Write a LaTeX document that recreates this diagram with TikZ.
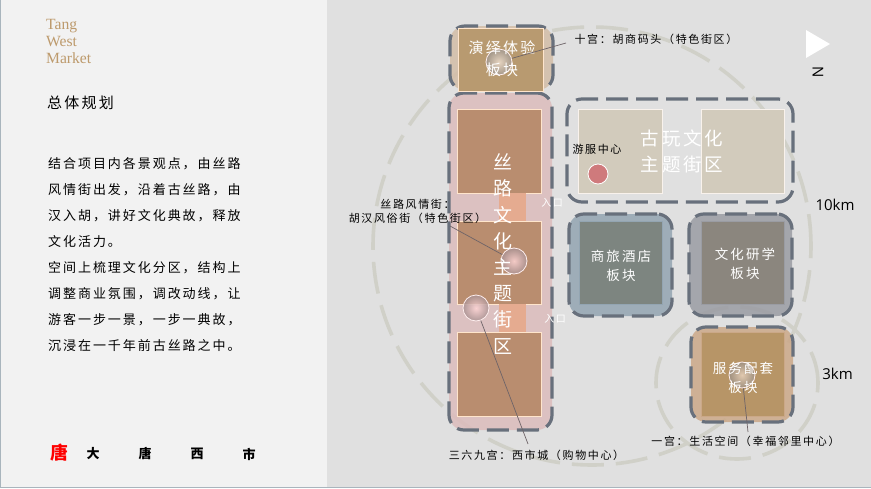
\documentclass[tikz,border=0pt]{standalone}
\usepackage{fontspec}
\setmainfont{Liberation Serif}
\setsansfont{Open Sans}
\newfontfamily\cjk[LetterSpace=15]{Noto Sans CJK SC}
\newfontfamily\cjktight{Noto Sans CJK SC}
\usepackage{tikz}
\definecolor{panelgrey}{HTML}{F2F2F2}
\definecolor{backgrey}{HTML}{E0E0E0}
\definecolor{edgeblue}{HTML}{A9B5BD}
\definecolor{ringgrey}{HTML}{D0D0C8}
\definecolor{dashgrey}{HTML}{68707C}
\definecolor{leadgrey}{HTML}{6E6468}
\definecolor{titlegold}{HTML}{BD9A6C}
\definecolor{yanyiout}{HTML}{D3BDA7}
\definecolor{yanyiin}{HTML}{B89A70}
\definecolor{siluout}{HTML}{DCBCBC}
\definecolor{siluin}{HTML}{B98D6F}
\definecolor{gatefill}{HTML}{E5AB90}
\definecolor{guwanin}{HTML}{D2CBBC}
\definecolor{shanglvout}{HTML}{93A5B2}
\definecolor{shanglvin}{HTML}{7D8580}
\definecolor{yanxueout}{HTML}{9A9CA3}
\definecolor{yanxuein}{HTML}{8B867E}
\definecolor{fuwuout}{HTML}{CBA888}
\definecolor{fuwuin}{HTML}{B79567}
\definecolor{centrered}{HTML}{CF7A7C}

\begin{document}
\begin{tikzpicture}[x=1pt,y=-1pt]
\tikzset{zone/.style = {shape=rectangle,draw=dashgrey,line width=3.2pt,rounded corners=15pt,fill opacity=.85,dash pattern=on 22pt off 8pt,outer sep=0pt}}
\tikzset{plotbox/.style = {shape=rectangle,draw=white!80!orange,line width=.8pt,outer sep=0pt}}
\tikzset{gatebox/.style = {shape=rectangle,fill=gatefill,inner sep=0pt,outer sep=0pt,minimum width=27pt,minimum height=28pt}}
\tikzset{ball/.style = {shape=circle,draw=white!75!pink,line width=.8pt,minimum size=26pt,inner sep=0pt,inner color=#1,outer color=#1!70!black!80!gray,fill opacity=.85}}
\tikzset{ringline/.style = {draw=ringgrey,line width=3.6pt,dash pattern=on 32pt off 12pt}}
\tikzset{lead/.style = {draw=leadgrey,line width=.7pt}}
\tikzset{tag/.style = {text=black,inner sep=0pt,align=center,font=\cjk\fontsize{11}{14}\selectfont}}
\tikzset{blockname/.style = {text=white,inner sep=0pt,align=center,font=\cjk\fontsize{13.5}{18.5}\selectfont}}
\tikzset{gatename/.style = {text=white,inner sep=0pt,font=\cjk\fontsize{10}{12}\selectfont}}
\tikzset{dist/.style = {text=black,inner sep=0pt,font=\sffamily\fontsize{15}{17}\selectfont}}
% ground
\fill[backgrey] (0,0) rectangle (871,488);
\fill[panelgrey] (0,0) rectangle (327,488);
\fill[edgeblue] (0,0) rectangle (1,488);
\fill[edgeblue] (0,487) rectangle (871,488);
% left column
\node[text=titlegold,inner sep=0pt,align=left,anchor=north west,font=\fontsize{15.6}{17}\selectfont] (title) at (46,19.5) {Tang\\West\\Market};
\node[inner sep=0pt,anchor=west,font=\cjk\fontsize{15}{18}\selectfont] (head) at (47,103) {总体规划};
\node[inner sep=0pt,anchor=north west,align=left,font=\cjk\fontsize{13}{26}\selectfont] (intro) at (48,157) {结合项目内各景观点，由丝路\\风情街出发，沿着古丝路，由\\汉入胡，讲好文化典故，释放\\文化活力。\\空间上梳理文化分区，结构上\\调整商业氛围，调改动线，让\\游客一步一景，一步一典故，\\沉浸在一千年前古丝路之中。};
\node[text=red,inner sep=0pt,font=\cjktight\bfseries\fontsize{18}{20}\selectfont] (seal) at (59,453) {唐};
\node[inner sep=0pt,font=\cjktight\bfseries\fontsize{13}{15}\selectfont] (da) at (93,454) {大};
\node[inner sep=0pt,font=\cjktight\bfseries\fontsize{13}{15}\selectfont] (tang) at (145,454) {唐};
\node[inner sep=0pt,font=\cjktight\bfseries\fontsize{13}{15}\selectfont] (xi) at (197,454) {西};
\node[inner sep=0pt,font=\cjktight\bfseries\fontsize{13}{15}\selectfont] (shi) at (249,454) {市};
% rings
\draw[ringline] (592,246) circle (219pt);
\draw[ringline] (737,383) ellipse (81pt and 76pt);
% zones
\node[zone,fill=yanyiout,minimum width=103pt,minimum height=64pt] (yanyi) at (501.5,58) {};
\node[zone,fill=siluout,minimum width=103pt,minimum height=337pt] (silu) at (500.5,261.5) {};
\node[zone,minimum width=226pt,minimum height=103pt] (guwan) at (680,150.5) {};
\node[zone,fill=shanglvout,minimum width=103pt,minimum height=102pt] (shanglv) at (620.5,265) {};
\node[zone,fill=yanxueout,minimum width=103pt,minimum height=102pt] (yanxue) at (740.5,265) {};
\node[zone,fill=fuwuout,minimum width=102pt,minimum height=95pt] (fuwu) at (742,374.5) {};
% plots
\node[plotbox,fill=yanyiin,minimum width=85pt,minimum height=63pt] (yanyi1) at (500.5,59.5) {};
\node[plotbox,fill=siluin,minimum width=84pt,minimum height=84pt] (silu1) at (499,151) {};
\node[plotbox,fill=siluin,minimum width=84pt,minimum height=83pt] (silu2) at (499,262.5) {};
\node[plotbox,fill=siluin,minimum width=84pt,minimum height=84pt] (silu3) at (499,374) {};
\node[gatebox] (gate1) at (512.5,207) {};
\node[gatebox] (gate2) at (512.5,318) {};
\node[plotbox,draw=white!90!brown,fill=guwanin,minimum width=84pt,minimum height=84pt] (guwan1) at (620,151) {};
\node[plotbox,draw=white!90!brown,fill=guwanin,minimum width=83pt,minimum height=84pt] (guwan2) at (742.5,151) {};
\node[plotbox,fill=shanglvin,draw=shanglvout,minimum width=83pt,minimum height=83pt] (shanglv1) at (620.5,262.5) {};
\node[plotbox,fill=yanxuein,draw=yanxueout,minimum width=83pt,minimum height=83pt] (yanxue1) at (742.5,262.5) {};
\node[plotbox,fill=fuwuin,draw=fuwuout,minimum width=83pt,minimum height=84pt] (fuwu1) at (742.5,374) {};
% spots
\node[ball=brown!25!white] (spot1) at (499,62) {};
\node[ball=pink!65!white] (spot2) at (514,261) {};
\node[ball=pink!65!white] (spot3) at (476,308) {};
\node[ball=brown!35!white] (spot4) at (742,375) {};
\node[shape=circle,fill=centrered,draw=white,line width=.8pt,minimum size=20pt,inner sep=0pt] (centre) at (598,174) {};
% zone names
\node[blockname,font=\cjk\fontsize{15}{22}\selectfont] (yanyiname) at (502,59) {演绎体验\\板块};
\node[blockname,font=\cjktight\fontsize{19}{26.2}\selectfont] (siluname) at (503,254) {丝\\路\\文\\化\\主\\题\\街\\区};
\node[blockname,font=\cjk\fontsize{18.5}{26}\selectfont] (guwanname) at (682,151) {古玩文化\\主题街区};
\node[blockname] (shanglvname) at (621,266) {商旅酒店\\板块};
\node[blockname] (yanxuename) at (745,264) {文化研学\\板块};
\node[blockname] (fuwuname) at (743,378) {服务配套\\板块};
\node[gatename] (gatename1) at (552,203) {入口};
\node[gatename] (gatename2) at (555,319) {入口};
% tags
\node[tag] (tagten) at (656,39) {十宫：胡商码头（特色街区）};
\node[tag] (tagsilk) at (417.5,211) {丝路风情街：\\胡汉风俗街（特色街区）};
\node[tag] (tagwest) at (536.5,455) {三六九宫：西市城（购物中心）};
\node[tag] (tagone) at (745.5,441) {一宫：生活空间（幸福邻里中心）};
\node[tag,font=\cjk\fontsize{11}{13}\selectfont] (tagcentre) at (597,149) {游服中心};
\coordinate (leadten) at (566,43);
\coordinate (leadsilk) at (450,226);
\coordinate (leadwest) at (528,444);
\coordinate (leadone) at (748,432);
% leaders
\draw[lead] (spot1) -- (leadten);
\draw[lead] (spot2) -- (leadsilk);
\draw[lead] (spot3) -- (leadwest);
\draw[lead] (spot4) -- (leadone);
% north and distances
\fill[white] (806,30) -- (830,44) -- (806,58) -- cycle;
\node[inner sep=0pt,rotate=-90,font=\sffamily\fontsize{15}{17}\selectfont] (north) at (818,72) {N};
\node[dist] (tenkm) at (835,205) {10km};
\node[dist] (threekm) at (837.5,374) {3km};
\end{tikzpicture}
\end{document}
